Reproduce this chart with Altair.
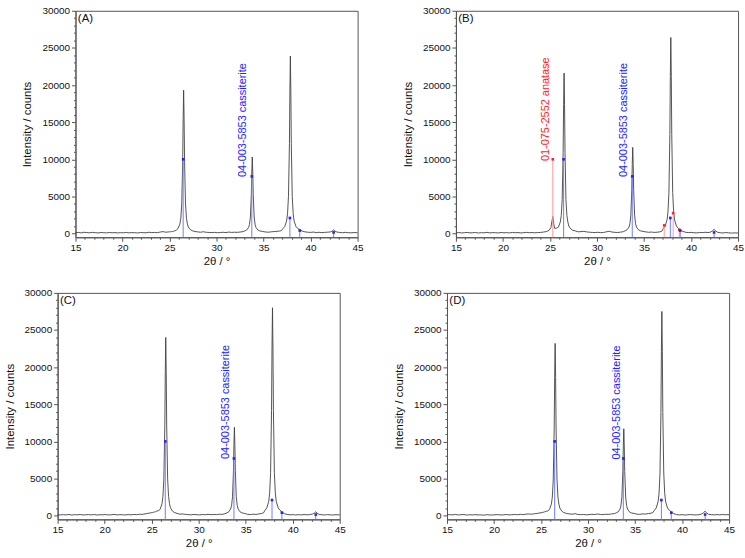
import altair as alt
import pandas as pd

# 2-theta sampling grid shared by all four diffractograms (degrees)
TWO_THETA = [
    15.0, 15.3, 15.6, 15.9, 16.2, 16.5, 16.8, 17.1, 17.4, 17.7, 18.0, 18.3, 18.6, 18.9, 19.2, 19.5, 19.8,
    20.1, 20.4, 20.7, 21.0, 21.3, 21.6, 21.9, 22.2, 22.5, 22.8, 23.1, 23.4, 23.7, 24.0, 24.3, 24.6, 24.9,
    25.1, 25.2, 25.3, 25.4, 25.5,
    25.7, 25.9, 26.1, 26.2, 26.3, 26.4, 26.45, 26.5, 26.55, 26.6, 26.7, 26.8, 26.9, 27.0, 27.2, 27.4, 27.7,
    28.0, 28.3, 28.6, 28.9, 29.2, 29.5, 29.8, 30.1, 30.4, 30.7, 31.0, 31.3, 31.6, 31.9, 32.2, 32.5, 32.8,
    33.0, 33.2, 33.4, 33.5, 33.6, 33.7, 33.75, 33.8, 33.85, 33.9, 34.0, 34.1, 34.2, 34.4, 34.6, 34.9,
    35.2, 35.5, 35.8, 36.1, 36.4, 36.7, 36.9,
    37.05, 37.25, 37.45, 37.55, 37.65, 37.75, 37.8, 37.85, 37.9, 37.95, 38.05, 38.15, 38.25, 38.45, 38.65,
    38.9, 39.1, 39.4, 39.7, 40.0, 40.3, 40.6, 40.9, 41.2, 41.5, 41.8, 42.1, 42.3, 42.45, 42.6, 42.8,
    43.1, 43.4, 43.7, 44.0, 44.3, 44.6, 45.0,
]

# Measured intensities (counts) for samples A-D
COUNTS_A = [
    110, 150, 90, 170, 130, 100, 160, 120, 80, 140, 110, 90, 150, 100, 130, 80, 120,
    100, 150, 90, 130, 110, 80, 140, 120, 100, 170, 130, 150, 110, 200, 260, 180, 220,
    240, 260, 280, 300, 330,
    440, 670, 1280, 2065, 3980, 9725, 15470, 19300, 15470, 9725, 3980, 2065, 1280, 880, 530, 380, 280,
    220, 180, 240, 170, 150, 120, 160, 110, 140, 170, 130, 200, 150, 180, 160, 200, 260,
    350, 470, 800, 1210, 2220, 5250, 8280, 10300, 8280, 5250, 2220, 1210, 800, 470, 350, 280,
    210, 180, 230, 260, 300, 330, 390,
    650, 940, 1690, 2660, 5020, 12100, 19180, 23900, 19180, 12100, 5020, 2660, 1690, 940, 650,
    520, 330, 230, 180, 150, 200, 130, 170, 120, 160, 180, 220, 330, 480, 320, 200,
    150, 110, 160, 120, 90, 140, 100,
]
COUNTS_B = [
    100, 130, 80, 120, 150, 90, 110, 140, 70, 120, 100, 160, 90, 130, 110, 80, 140,
    100, 120, 90, 150, 110, 130, 80, 120, 160, 110, 140, 100, 130, 150, 200, 260, 420,
    800, 1600, 2300, 1300, 700,
    720, 875, 1560, 2430, 4560, 10950, 17340, 21600, 17340, 10950, 4560, 2430, 1560, 1010, 630, 455, 350,
    230, 260, 300, 220, 180, 150, 130, 170, 120, 150, 230, 310, 200, 160, 140, 190, 250,
    370, 510, 870, 1340, 2480, 5900, 9320, 11600, 9320, 5900, 2480, 1340, 870, 510, 370, 290,
    220, 170, 200, 150, 180, 230, 320,
    690, 1005, 1840, 2910, 5520, 13350, 21180, 26400, 21180, 13350, 5520, 2910, 1840, 1005, 690,
    450, 300, 180, 120, 160, 110, 90, 150, 120, 170, 130, 200, 380, 560, 380, 180,
    110, 80, 130, 100, 60, 90, 70,
]
COUNTS_C = [
    120, 90, 140, 100, 160, 80, 130, 110, 150, 90, 120, 140, 100, 160, 80, 130, 110,
    150, 90, 120, 170, 100, 140, 120, 90, 150, 110, 160, 130, 190, 170, 240, 310, 380,
    420, 460, 500, 520, 600,
    650, 840, 1600, 2580, 4960, 12100, 19240, 24000, 19240, 12100, 4960, 2580, 1600, 1050, 630, 440, 300,
    200, 230, 170, 140, 110, 160, 130, 100, 150, 120, 180, 130, 160, 140, 190, 170, 260,
    375, 515, 890, 1370, 2540, 6050, 9560, 11900, 9560, 6050, 2540, 1370, 890, 515, 375, 290,
    180, 140, 200, 160, 230, 290, 380,
    715, 1050, 1930, 3070, 5840, 14150, 22460, 28000, 22460, 14150, 5840, 3070, 1930, 1050, 715,
    480, 280, 160, 110, 140, 90, 130, 100, 150, 110, 140, 210, 360, 520, 340, 170,
    120, 90, 140, 110, 80, 130, 100,
]
COUNTS_D = [
    110, 140, 100, 170, 90, 130, 150, 80, 120, 100, 140, 90, 110, 60, 130, 100, 80,
    120, 140, 90, 110, 150, 100, 130, 160, 120, 180, 140, 200, 230, 190, 260, 300, 370,
    410, 450, 480, 520, 580,
    630, 820, 1560, 2500, 4800, 11700, 18600, 23200, 18600, 11700, 4800, 2500, 1560, 1020, 610, 430, 300,
    240, 190, 270, 170, 130, 160, 110, 140, 180, 150, 220, 160, 140, 190, 170, 230, 280,
    370, 510, 880, 1350, 2500, 5950, 9400, 11700, 9400, 5950, 2500, 1350, 880, 510, 370, 290,
    200, 170, 240, 210, 280, 330, 420,
    710, 1030, 1900, 3020, 5740, 13900, 22060, 27500, 22060, 13900, 5740, 3020, 1900, 1030, 710,
    470, 270, 150, 100, 130, 80, 120, 150, 110, 90, 130, 230, 420, 600, 380, 190,
    130, 100, 150, 110, 160, 120, 140,
]

# Reference patterns (stick positions and scaled intensities)
CASS_POS = [26.45, 33.75, 37.8, 38.85, 42.45]
CASS_INT = [10000, 7700, 2100, 400, 150]
ANAT_POS = [25.3, 37.15, 38.1, 38.75]
ANAT_INT = [10000, 1100, 2750, 500]

CASS_NAME = "04-003-5853 cassiterite"
ANAT_NAME = "01-075-2552 anatase"

PANELS = ["(A)", "(B)", "(C)", "(D)"]
CASS_LABEL_X = [32.85, 32.9, 32.9, 33.05]
CASS_LABEL_Y = [7600, 7620, 7630, 7560]
ANAT_LABEL_X = 24.6
ANAT_LABEL_Y = 9760

X_MIN, X_MAX = 15, 45
Y_MIN, Y_MAX = -500, 30000
X_TICKS = list(range(15, 46))
Y_TICKS = list(range(0, 30001, 1000))

FONT = "Liberation Sans"
FRAME = "#555555"
INK = "#111111"
TRACE = "#404040"
BLUE = "#2323ff"
BLUE_STICK = "#6f7cff"
RED = "#ff2424"
RED_STICK = "#ff9a9a"

W, H = 284, 228

x_scale = alt.Scale(domain=[X_MIN, X_MAX], nice=False, zero=False)
y_scale = alt.Scale(domain=[Y_MIN, Y_MAX], nice=False, zero=False)

x_axis = alt.Axis(
    values=X_TICKS, format="d", title="2θ / °",
    labelExpr="datum.value % 5 === 0 ? datum.label : ''",
    tickSize={"condition": {"test": "datum.value % 5 === 0", "value": 4}, "value": 2},
    labelFlush=False, labelOverlap=False, grid=False, labelPadding=1, titlePadding=3,
)
y_axis = alt.Axis(
    values=Y_TICKS, format="d", title="Intensity / counts",
    labelExpr="datum.value % 5000 === 0 ? datum.label : ''",
    tickSize={"condition": {"test": "datum.value % 5000 === 0", "value": 4}, "value": 2},
    labelFlush=False, labelOverlap=False, grid=False, labelPadding=2, titlePadding=9,
)


def X(field):
    return alt.X(field, type="quantitative", scale=x_scale, axis=x_axis)


def Y(field):
    return alt.Y(field, type="quantitative", scale=y_scale, axis=y_axis)


def sticks(pos, inten, line_color, dot_color):
    df = pd.DataFrame({"tt": pos, "I": inten, "floor": [Y_MIN] * len(pos)})
    rule = alt.Chart(df).mark_rule(color=line_color, strokeWidth=1).encode(
        x=X("tt"), y=Y("I"), y2="floor:Q"
    )
    dots = alt.Chart(df).mark_point(
        shape="square", filled=True, size=7, color=dot_color, opacity=1
    ).encode(x=X("tt"), y=Y("I"))
    return [rule, dots]


def label(x, y, text, color):
    df = pd.DataFrame({"tt": [x], "I": [y], "t": [text]})
    return alt.Chart(df).mark_text(
        angle=270, align="left", baseline="middle", fontSize=11, font=FONT, color=color
    ).encode(x=X("tt"), y=Y("I"), text="t:N")


def panel(i, counts, anatase=False):
    df = pd.DataFrame({"tt": TWO_THETA, "I": counts})
    layers = [
        alt.Chart(df).mark_line(color=TRACE, strokeWidth=0.9).encode(x=X("tt"), y=Y("I"))
    ]
    if anatase:
        layers += sticks(ANAT_POS, ANAT_INT, RED_STICK, RED)
    layers += sticks(CASS_POS, CASS_INT, BLUE_STICK, BLUE)
    layers.append(label(CASS_LABEL_X[i], CASS_LABEL_Y[i], CASS_NAME, BLUE))
    if anatase:
        layers.append(label(ANAT_LABEL_X, ANAT_LABEL_Y, ANAT_NAME, RED))
    tag = pd.DataFrame({"tt": [15.25], "I": [29700], "t": [PANELS[i]]})
    layers.append(
        alt.Chart(tag).mark_text(
            align="left", baseline="top", fontSize=11.5, font=FONT, color=INK
        ).encode(x=X("tt"), y=Y("I"), text="t:N")
    )
    return alt.layer(*layers).properties(width=W, height=H)


def gap(px):
    # empty, frameless cell that sets the horizontal offset of the next panel
    return alt.Chart(pd.DataFrame({"v": [0]})).mark_text(text="").encode(
        x=alt.value(0), y=alt.value(0)
    ).properties(width=px, height=10, view=alt.ViewBackground(stroke="transparent"))


row1 = alt.hconcat(
    gap(19), panel(0, COUNTS_A), gap(35), panel(1, COUNTS_B, anatase=True), spacing=0
)
row2 = alt.hconcat(gap(1), panel(2, COUNTS_C), gap(44), panel(3, COUNTS_D), spacing=0)

chart = (
    alt.vconcat(row1, row2, spacing=19)
    .properties(padding={"left": 0, "top": 2, "right": 0, "bottom": 0}, background="white")
    .configure_view(stroke=FRAME, strokeWidth=1)
    .configure_axis(
        domainColor=FRAME, tickColor=FRAME, labelColor=INK, titleColor=INK,
        labelFont=FONT, titleFont=FONT, labelFontSize=10, titleFontSize=11.5,
        titleFontWeight="normal",
    )
)

chart.save("out.html", embed_options={"renderer": "svg", "actions": False})
